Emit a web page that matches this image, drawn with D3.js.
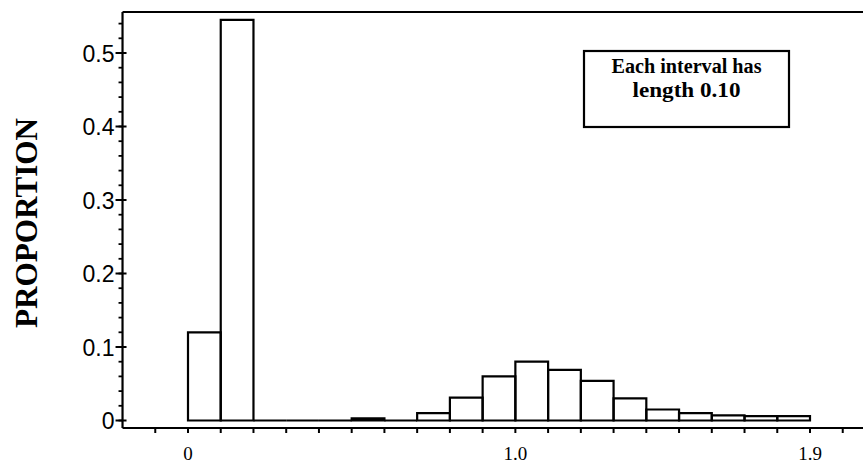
<!DOCTYPE html>
<html>
<head>
<meta charset="utf-8">
<script src="https://cdn.jsdelivr.net/npm/d3@7"></script>
<style>
  html, body { margin: 0; padding: 0; background: #fff; }
  svg { display: block; }
</style>
</head>
<body>
<svg id="chart" width="863" height="464"></svg>
<script>
// ---- data ----
const binStarts = [0.0, 0.1, 0.2, 0.3, 0.4, 0.5, 0.6, 0.7, 0.8, 0.9, 1.0, 1.1, 1.2, 1.3, 1.4, 1.5, 1.6, 1.7, 1.8];
const proportions = [0.12, 0.545, 0, 0, 0, 0.003, 0, 0.01, 0.031, 0.06, 0.08, 0.069, 0.054, 0.03, 0.015, 0.01, 0.007, 0.006, 0.006];
const binWidth = 0.1;
const xTickLabels = [0, 1.0, 1.9];
const xTickText = ["0", "1.0", "1.9"];
const yTickLabels = [0, 0.1, 0.2, 0.3, 0.4, 0.5];
const yTickText = ["0", "0.1", "0.2", "0.3", "0.4", "0.5"];
const yAxisTitle = "PROPORTION";
const noteLines = ["Each interval has", "length 0.10"];
const noteLineLengths = [150, 108];

// ---- layout ----
const svg = d3.select("#chart");
const x = d3.scaleLinear().domain([0, 1.9]).range([188, 810]);
const y = d3.scaleLinear().domain([0, 0.5]).range([420.5, 53]);
const xLeft = x(-0.2), xRight = 863;
const yTop = 12, xAxisY = 428;
const ink = "#000";
const lw = 2.2;

// top frame line
svg.append("line").attr("x1", xLeft).attr("x2", xRight).attr("y1", yTop).attr("y2", yTop)
  .attr("stroke", ink).attr("stroke-width", lw);

// y axis line
svg.append("line").attr("x1", xLeft).attr("x2", xLeft).attr("y1", yTop).attr("y2", xAxisY)
  .attr("stroke", ink).attr("stroke-width", lw);

// x axis line
svg.append("line").attr("x1", xLeft).attr("x2", xRight).attr("y1", xAxisY).attr("y2", xAxisY)
  .attr("stroke", ink).attr("stroke-width", lw);

// y minor ticks (every 0.02)
const yMinor = d3.range(0, 0.55, 0.02).map(v => +v.toFixed(2));
svg.append("g").selectAll("line").data(yMinor).join("line")
  .attr("x1", xLeft - 4).attr("x2", xLeft)
  .attr("y1", d => y(d)).attr("y2", d => y(d))
  .attr("stroke", ink).attr("stroke-width", 1.8);

// y major ticks
svg.append("g").selectAll("line").data(yTickLabels).join("line")
  .attr("x1", xLeft - 7).attr("x2", xLeft + 4)
  .attr("y1", d => y(d)).attr("y2", d => y(d))
  .attr("stroke", ink).attr("stroke-width", 2);

// y tick labels
svg.append("g").selectAll("text").data(yTickLabels).join("text")
  .attr("x", xLeft - 8).attr("y", d => y(d) + 8.5)
  .attr("text-anchor", "end")
  .attr("font-family", "'Liberation Sans', Arial, sans-serif")
  .attr("font-size", 23)
  .attr("fill", ink)
  .text((d, i) => yTickText[i]);

// x ticks every 0.1
const xMinor = d3.range(-0.1, 2.15, 0.1).map(v => +v.toFixed(1));
svg.append("g").selectAll("line").data(xMinor).join("line")
  .attr("x1", d => x(d)).attr("x2", d => x(d))
  .attr("y1", xAxisY).attr("y2", xAxisY + 5)
  .attr("stroke", ink).attr("stroke-width", 2);

// x tick labels
svg.append("g").selectAll("text").data(xTickLabels).join("text")
  .attr("x", d => x(d)).attr("y", 460)
  .attr("text-anchor", "middle")
  .attr("font-family", "'Liberation Serif', 'Times New Roman', serif")
  .attr("font-size", 19)
  .attr("fill", ink)
  .text((d, i) => xTickText[i]);

// bars
svg.append("g").selectAll("path").data(binStarts).join("path")
  .attr("d", (d, i) => {
    const x0 = x(d), x1 = x(d + binWidth), y0 = y(0), y1 = y(proportions[i]);
    return `M${x0},${y0}L${x0},${y1}L${x1},${y1}L${x1},${y0}Z`;
  })
  .attr("fill", "none").attr("stroke", ink).attr("stroke-width", lw)
  .attr("stroke-linejoin", "miter");

// y axis title
svg.append("text")
  .attr("transform", "translate(37,223) rotate(-90)")
  .attr("text-anchor", "middle")
  .attr("font-family", "'Liberation Serif', 'Times New Roman', serif")
  .attr("font-weight", "bold")
  .attr("font-size", 32)
  .attr("textLength", 210)
  .attr("lengthAdjust", "spacingAndGlyphs")
  .attr("fill", ink)
  .text(yAxisTitle);

// note box
const box = { x0: 584, y0: 51, x1: 789, y1: 127 };
svg.append("rect").attr("x", box.x0).attr("y", box.y0)
  .attr("width", box.x1 - box.x0).attr("height", box.y1 - box.y0)
  .attr("fill", "#fff").attr("stroke", ink).attr("stroke-width", lw);
svg.append("g").selectAll("text").data(noteLines).join("text")
  .attr("x", (box.x0 + box.x1) / 2)
  .attr("y", (d, i) => 73 + i * 24)
  .attr("text-anchor", "middle")
  .attr("font-family", "'Liberation Serif', 'Times New Roman', serif")
  .attr("font-weight", "bold")
  .attr("font-size", 20)
  .attr("textLength", (d, i) => noteLineLengths[i])
  .attr("lengthAdjust", "spacingAndGlyphs")
  .attr("fill", ink)
  .text(d => d);
</script>
</body>
</html>
